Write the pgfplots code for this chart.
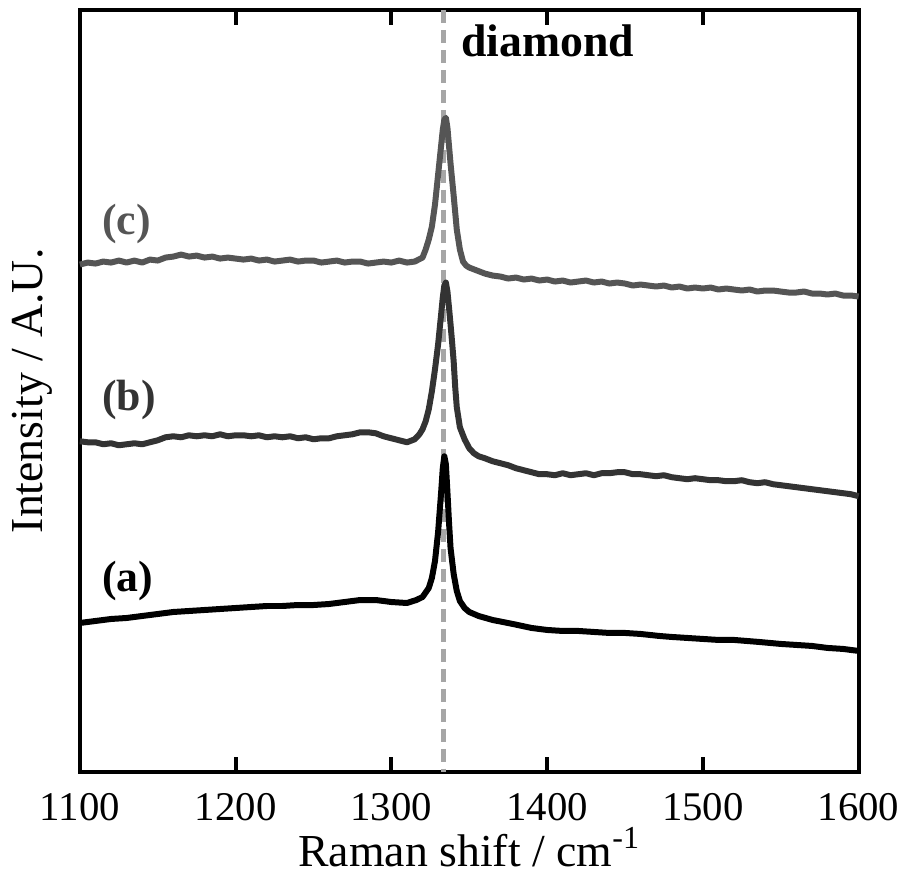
\documentclass[border=0pt]{standalone}
\usepackage{pgfplots}
\pgfplotsset{compat=1.18}
\usepackage{pgfplotstable}
\usepackage{fontspec}
\setmainfont{Liberation Serif}
\definecolor{ca}{HTML}{000000}
\definecolor{cb}{HTML}{333333}
\definecolor{cc}{HTML}{555555}
\definecolor{dgray}{HTML}{A6A6A6}

% y values are vertical positions (reversed axis), x in cm^-1
\pgfplotstableread{
x y
1100 624
1110 622
1120 620
1130 619
1140 617
1150 615
1160 613
1170 612
1180 611
1190 610
1200 609
1210 608
1220 607
1230 607
1240 606
1250 606
1260 605
1270 603
1280 601
1290 601
1300 603
1310 604
1316 601
1320 598
1324 589
1326 579
1328 562
1330 533
1332 492
1333 469
1334 457
1335 465
1336 493
1337 523
1338 549
1340 575
1342 592
1344 602
1347 609
1350 613
1356 617
1365 621
1378 625
1390 629
1400 631
1410 632
1420 632
1430 633
1440 634
1450 634
1460 635
1472 637
1480 638
1490 639
1500 640
1510 641
1520 641
1536 643
1550 645
1560 646
1570 647
1580 649
1590 650
1600 652
}\dataA

\pgfplotstableread{
x y
1100 442
1105 443
1110 443
1115 445
1120 444
1125 446
1130 445
1135 444
1140 445
1145 443
1150 441
1155 438
1160 437
1165 438
1170 436
1175 437
1180 436
1185 437
1190 435
1195 437
1200 436
1205 436
1210 437
1215 436
1220 438
1225 437
1230 438
1235 437
1240 439
1245 438
1250 440
1255 439
1260 439
1265 437
1270 436
1275 435
1280 433
1285 433
1290 434
1295 437
1300 439
1305 441
1310 443
1315 440
1318 435
1320 430
1322 422
1324 410
1326 392
1328 370
1330 345
1332 314
1333 298
1334 286
1335 283
1336 292
1337 308
1338 325
1339 343
1340 362
1341 388
1342 408
1344 428
1347 440
1350 449
1353 454
1356 457
1360 459
1365 462
1370 464
1375 466
1380 469
1385 471
1390 473
1395 475
1400 475
1405 476
1410 474
1415 476
1420 475
1425 474
1430 476
1435 474
1440 474
1445 473
1450 473
1455 475
1460 475
1465 476
1470 477
1475 476
1480 478
1485 479
1490 480
1495 479
1500 480
1505 481
1510 481
1515 482
1520 482
1525 481
1530 483
1535 484
1540 483
1545 485
1550 486
1555 487
1560 488
1565 489
1570 490
1575 491
1580 492
1585 493
1590 494
1595 495
1600 497
}\dataB

\pgfplotstableread{
x y
1100 265
1105 263
1110 264
1115 262
1120 263
1125 261
1130 263
1135 261
1140 263
1145 260
1150 261
1155 258
1160 257
1165 255
1170 257
1175 256
1180 258
1185 257
1190 259
1195 258
1200 259
1205 260
1210 259
1215 261
1220 260
1225 262
1230 261
1235 260
1240 262
1245 261
1250 261
1255 263
1260 262
1265 261
1270 263
1275 262
1280 262
1285 264
1290 263
1295 262
1300 263
1305 261
1310 263
1315 262
1320 258
1322 250
1324 240
1326 227
1328 205
1330 175
1332 145
1333 130
1334 120
1335 118
1336 128
1337 146
1338 164
1339 180
1340 196
1341 213
1342 230
1344 250
1346 262
1348 266
1350 268
1355 271
1360 274
1365 276
1370 277
1375 279
1380 278
1385 280
1390 279
1395 281
1400 280
1405 282
1410 281
1415 283
1420 282
1425 281
1430 283
1435 282
1440 284
1445 283
1450 284
1455 286
1460 285
1465 286
1470 287
1475 286
1480 288
1485 287
1490 289
1495 288
1500 289
1505 288
1510 290
1515 289
1520 290
1525 291
1530 290
1535 292
1540 291
1545 291
1550 292
1555 293
1560 293
1565 292
1570 294
1575 294
1580 295
1585 294
1590 296
1595 296
1600 297
}\dataC

\begin{document}
\begin{tikzpicture}
\begin{axis}[
  scale only axis,
  width=390bp, height=381.5bp,
  xmin=1100, xmax=1600,
  ymin=10, ymax=773,
  y dir=reverse,
  clip=false,
  axis line style={line width=2bp},
  xtick={1100,1200,...,1600},
  ytick=\empty,
  tick align=inside,
  xtick pos=both,
  major tick length=7.5bp,
  every tick/.style={line width=2bp, black},
  /pgf/number format/assume math mode=true,
  /pgf/number format/set thousands separator={},
  xticklabel style={font=\fontsize{20.5}{24}\selectfont, anchor=base, yshift=-24.5bp},
  every axis x label/.style={at={(axis description cs:0.5,-0.1245)}, anchor=base, font=\fontsize{23}{27}\selectfont},
  every axis y label/.style={at={(axis description cs:-0.061,0.5)}, rotate=90, anchor=center, font=\fontsize{23}{27}\selectfont},
  xlabel={Raman shift / cm\textsuperscript{-1}},
  ylabel={Intensity / A.U.},
]
\path (axis cs:1048.7,886) rectangle (axis cs:1629.5,0);
\addplot[dgray, line width=2.5bp, dash pattern=on 6.5bp off 3.5bp] coordinates {(1333.5,10) (1333.5,773)};
\addplot[ca, line width=3bp, line join=round] table[x=x,y=y] {\dataA};
\addplot[cb, line width=3bp, line join=round] table[x=x,y=y] {\dataB};
\addplot[cc, line width=3bp, line join=round] table[x=x,y=y] {\dataC};
\node[anchor=base west, text=cc, font=\fontsize{22}{26}\selectfont\bfseries, inner sep=0pt] at (axis cs:1114,235) {(c)};
\node[anchor=base west, text=cb, font=\fontsize{22}{26}\selectfont\bfseries, inner sep=0pt] at (axis cs:1114,411) {(b)};
\node[anchor=base west, text=ca, font=\fontsize{22}{26}\selectfont\bfseries, inner sep=0pt] at (axis cs:1114,592) {(a)};
\node[anchor=base, font=\fontsize{23}{27}\selectfont\bfseries, inner sep=0pt] at (axis cs:1400.3,57) {diamond};
\end{axis}
\end{tikzpicture}
\end{document}
